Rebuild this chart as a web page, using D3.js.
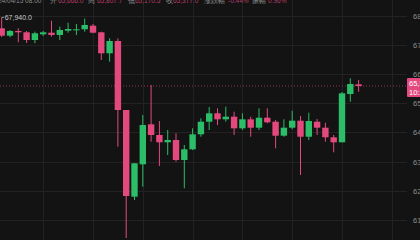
<!DOCTYPE html>
<html><head><meta charset="utf-8">
<script src="https://cdn.jsdelivr.net/npm/d3@7"></script>
<style>
html,body{margin:0;padding:0;background:#131313;overflow:hidden}
svg{display:block}
text{font-family:"Liberation Sans",Arial,sans-serif}
</style></head>
<body>
<svg id="c" width="420" height="240"></svg>
<script>
// candle data: open, high, low, close
const opens  = [67565,67312,67473,67428,67164,67360,67414,67336,67483,67507,67531,67654,67428,66709,67130,64767,61798,62907,64277,63911,63661,63740,63055,63421,63935,64366,64654,64448,64538,64140,64448,64161,64503,64366,63887,64161,64401,63852,64366,64161,63832,63661,65315,65647];
const highs  = [67940,67507,67565,67473,67449,67473,67826,67620,67757,67713,67900,67713,67449,67223,67223,64767,62951,64596,65623,64390,64082,63969,63568,64140,64483,64870,64825,64880,64709,64654,64538,64825,64825,64424,64448,64743,64561,64675,64459,64332,63911,65384,65853,65795];
const lows   = [67267,67257,67086,67062,67051,67302,67278,67164,67414,67336,67449,67394,66479,66421,63510,60383,61685,62140,63681,62849,63226,62996,62085,63397,63852,64082,64253,64366,63911,64082,63852,64082,64312,63455,63852,64106,62541,63740,63911,63681,63318,63661,65051,65394];
const closes = [67312,67473,67428,67164,67394,67428,67336,67507,67541,67531,67678,67414,66709,67130,64767,61822,62941,64253,63911,63661,63740,63055,63421,63935,64366,64654,64448,64538,64140,64448,64161,64503,64346,63887,64161,64401,63852,64390,64161,63832,63661,65339,65658,65589];
const priceTicks = [68000,67000,66000,65000,64000,63000,62000,61000];
const timeGridIdx = [5,11,17,23,29,35,41,47];
const maxLabel = "67,940.0";
const lastPrice = 65589;
const lastPriceText = "65,589.1";
const countdownText = "10:21";
const headerParts = [
  {t:"24/04/15 08:00", c:"g"},{t:"开", c:"g"},{t:"65,666.0", c:"r"},
  {t:"高", c:"g"},{t:"65,807.7", c:"r"},{t:"低", c:"g"},{t:"65,170.5", c:"r"},
  {t:"收", c:"g"},{t:"65,377.0", c:"r"},{t:"涨跌幅", c:"g"},{t:"-0.44%", c:"r"},
  {t:"振幅", c:"g"},{t:"0.96%", c:"r"}
];
const headerX = [-2,50,58,88,97,128,135,166,173,204,228,252,268];

const RED = "#e4497d", GREEN = "#2bbd67";
const svg = d3.select("#c");
svg.append("rect").attr("width",420).attr("height",240).attr("fill","#131313");

const x = d3.scaleLinear().domain([0,49]).range([1.7, 1.7 + 8.3*49]);
const y = d3.scaleLinear().domain([61000,68000]).range([220,15.6]);

// grid
const grid = svg.append("g").attr("stroke","#222222").attr("stroke-width",1);
grid.selectAll("line.h").data(priceTicks).join("line")
  .attr("x1",0).attr("x2",407)
  .attr("y1",d=>Math.round(y(d))+0.5).attr("y2",d=>Math.round(y(d))+0.5);
grid.selectAll("line.v").data(timeGridIdx).join("line")
  .attr("y1",0).attr("y2",240)
  .attr("x1",d=>Math.round(x(d))+0.5).attr("x2",d=>Math.round(x(d))+0.5);

// y axis labels (clipped by the window edge, as in the reference)
const axis = d3.axisRight(y).tickValues(priceTicks).tickSize(0).tickPadding(0)
  .tickFormat(d3.format(",.1f"));
const ag = svg.append("g").attr("transform","translate(413,0)").call(axis);
ag.select(".domain").remove();
ag.selectAll("text").attr("fill","#8c8c8c").attr("font-size",7.5);

// last price dotted line
svg.append("line").attr("x1",0).attr("x2",407)
  .attr("y1",y(lastPrice)).attr("y2",y(lastPrice))
  .attr("stroke",RED).attr("stroke-opacity",0.6).attr("stroke-width",1)
  .attr("stroke-dasharray","1,2");

// candles
const data = opens.map((o,i)=>({i,o,h:highs[i],l:lows[i],c:closes[i]}));
const cg = svg.append("g");
const bw = 6.4;
cg.selectAll("line.w").data(data).join("line")
  .attr("x1",d=>x(d.i)).attr("x2",d=>x(d.i))
  .attr("y1",d=>y(d.h)).attr("y2",d=>y(d.l))
  .attr("stroke",d=>d.c>=d.o?GREEN:RED).attr("stroke-width",1);
cg.selectAll("rect.b").data(data).join("rect")
  .attr("x",d=>x(d.i)-bw/2).attr("width",bw)
  .attr("y",d=>y(Math.max(d.o,d.c)))
  .attr("height",d=>Math.max(1,Math.abs(y(d.o)-y(d.c))))
  .attr("fill",d=>d.c>=d.o?GREEN:RED);

// max label
svg.append("line").attr("x1",x(0)).attr("x2",x(0)+2.5)
  .attr("y1",y(67940)).attr("y2",y(67940)).attr("stroke","#bbb").attr("stroke-width",0.8);
svg.append("text").attr("x",x(0)+3).attr("y",y(67940)+2.5)
  .attr("font-size",7).attr("fill","#c8c8c8").text(maxLabel);

// last price tag
svg.append("rect").attr("x",407).attr("y",78).attr("width",20).attr("height",19)
  .attr("fill",RED).attr("rx",1);
svg.append("text").attr("x",409).attr("y",86).attr("font-size",7.5).attr("fill","#fff").text(lastPriceText);
svg.append("text").attr("x",409).attr("y",95).attr("font-size",7.5).attr("fill","#fff").text(countdownText);

// header (cut off at the top, as in the reference)
svg.selectAll("text.hd").data(headerParts).join("text")
  .attr("x",(d,i)=>headerX[i]).attr("y",2.5)
  .attr("font-size",6.5)
  .attr("font-family","'Noto Sans CJK SC','Liberation Sans',sans-serif")
  .attr("fill",d=>d.c==="r"?"#b83d68":"#8e8e8e").text(d=>d.t);
</script>
</body></html>
